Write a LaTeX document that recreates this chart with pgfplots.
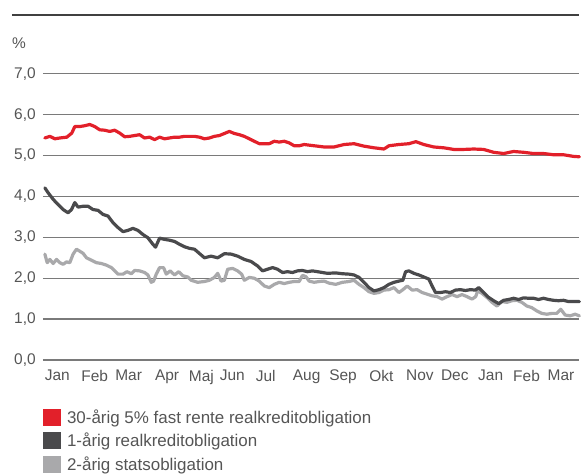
\documentclass[border=0pt]{standalone}
\usepackage{pgfplots}
\pgfplotsset{compat=1.18}
\usepackage{pgfplotstable}
\usepackage{fontspec}
\setmainfont{Liberation Sans}
\definecolor{cred}{HTML}{E2202A}
\definecolor{cdark}{HTML}{4A4A4C}
\definecolor{clight}{HTML}{A9A9AB}
\definecolor{ctext}{HTML}{555555}
\definecolor{cgrid}{HTML}{7A7A7A}

\pgfplotstableread{
x y
45 5.43
50 5.47
55 5.41
60 5.43
67 5.45
72 5.55
75 5.71
80 5.71
85 5.73
90 5.76
95 5.71
100 5.63
105 5.62
110 5.59
115 5.62
120 5.55
125 5.46
130 5.47
135 5.49
140 5.51
145 5.43
150 5.45
155 5.39
160 5.45
165 5.41
170 5.43
175 5.45
180 5.45
185 5.47
190 5.47
195 5.47
200 5.45
205 5.41
210 5.43
215 5.47
220 5.49
225 5.54
230 5.59
235 5.54
240 5.51
245 5.47
250 5.41
255 5.35
260 5.29
265 5.29
270 5.29
275 5.35
280 5.33
285 5.35
290 5.31
295 5.24
300 5.24
305 5.27
315 5.24
325 5.21
335 5.21
345 5.27
355 5.29
365 5.23
375 5.19
385 5.16
390 5.24
400 5.27
410 5.29
417 5.34
425 5.27
435 5.21
445 5.19
455 5.15
465 5.15
475 5.16
485 5.15
495 5.08
505 5.05
515 5.10
525 5.08
535 5.05
545 5.05
555 5.02
565 5.02
575 4.98
581 4.97
}\tred

\pgfplotstableread{
x y
45 4.21
48.3 4.09
53.3 3.93
58.3 3.80
63.3 3.68
68.3 3.60
71.7 3.68
75 3.85
78.3 3.74
83.3 3.76
88.3 3.76
93.3 3.68
98.3 3.66
103.3 3.56
108.3 3.52
113.3 3.36
118.3 3.24
123.3 3.14
128.3 3.17
133.3 3.22
138.3 3.17
143.3 3.07
148.3 2.99
153.3 2.83
156 2.76
160 2.98
165 2.95
170 2.93
175 2.90
180 2.83
185 2.77
190 2.73
195 2.71
205 2.50
211.7 2.54
218.3 2.50
225 2.60
231.7 2.59
238.3 2.54
245 2.46
251.7 2.41
258.3 2.30
263.3 2.18
268.3 2.22
273.3 2.26
278.3 2.22
283.3 2.14
288.3 2.16
293.3 2.14
298.3 2.18
303.3 2.19
308.3 2.16
313.3 2.18
318.3 2.16
323.3 2.14
328.3 2.12
336.7 2.13
343.3 2.11
350 2.10
355 2.08
360 2.02
365 1.90
370 1.77
375 1.69
380 1.72
385 1.77
390 1.85
395 1.90
400 1.93
404 1.95
406.7 2.16
410 2.18
415 2.12
420 2.08
425 2.03
430 1.98
433.3 1.81
436.7 1.65
441.7 1.65
446.7 1.67
451.7 1.65
456.7 1.71
461.7 1.72
466.7 1.70
471.7 1.72
476.7 1.71
480 1.77
485 1.65
490 1.53
495 1.45
500 1.38
505 1.46
510 1.48
515 1.51
520 1.48
525 1.52
530 1.51
535 1.51
540 1.48
545 1.51
550 1.48
555 1.46
560 1.45
565 1.46
570 1.43
575 1.43
581 1.43
}\tdark

\pgfplotstableread{
x y
45 2.59
47.3 2.38
50 2.46
53.3 2.36
56.7 2.46
60 2.38
63.3 2.34
66.7 2.40
70 2.38
73.3 2.59
76.7 2.71
80 2.66
83.3 2.61
86.7 2.50
91.7 2.44
96.7 2.38
101.7 2.36
106.7 2.32
111.7 2.26
115 2.18
118.3 2.10
123.3 2.10
127.3 2.16
131.7 2.11
135 2.19
140 2.18
145 2.14
148.3 2.08
151.7 1.90
154 1.93
156.7 2.10
160 2.26
164 2.26
166.7 2.10
170.7 2.18
175 2.08
179.3 2.16
183.3 2.06
188.3 2.03
191.7 1.95
198.3 1.90
205 1.92
210 1.95
215 2.02
218.3 2.12
221.7 1.93
225 1.95
228.3 2.22
233.3 2.24
238.3 2.18
242.3 2.10
245 1.95
250 2.02
255 2.00
260 1.93
265 1.81
270 1.77
275 1.85
280 1.90
285 1.87
290 1.90
295 1.92
300 1.92
303.3 2.07
306.7 2.04
310 1.93
315 1.90
320 1.92
325 1.93
330 1.88
336.7 1.85
343.3 1.90
350 1.92
355 1.95
360 1.85
365 1.77
370 1.67
375 1.63
380 1.65
385 1.71
390 1.72
395 1.77
400 1.65
404 1.72
408.3 1.81
413.3 1.71
418.3 1.72
423.3 1.65
428.3 1.61
433.3 1.57
438.3 1.55
443.3 1.49
448.3 1.55
453.3 1.60
458.3 1.55
463.3 1.60
468.3 1.55
473.3 1.49
477 1.55
479 1.69
483.3 1.63
488.3 1.53
493.3 1.41
498.3 1.32
503.3 1.43
508.3 1.41
513.3 1.45
518.3 1.46
523.3 1.41
528.3 1.32
533.3 1.28
538.3 1.20
543.3 1.14
548.3 1.12
553.3 1.14
558.3 1.14
562.3 1.24
566.7 1.10
571.7 1.08
576.7 1.12
581 1.08
}\tlight

\begin{document}
\begin{tikzpicture}[font=\fontsize{15.5bp}{18bp}\selectfont]
\begin{axis}[
  name=ax,
  scale only axis,
  width=538bp, height=287bp,
  xmin=43, xmax=581, ymin=0, ymax=7,
  axis line style={draw=none},
  major tick length=0pt,
  ymajorgrids,
  grid style={cgrid, line width=1.3bp},
  ytick={0,1,2,3,4,5,6,7},
  yticklabels={{0,0},{1,0},{2,0},{3,0},{4,0},{5,0},{6,0},{7,0}},
  yticklabel style={anchor=east, inner sep=0pt, xshift=-7bp, text=ctext},
  xtick={57.5,95,129,167.5,202,233,266.5,307.5,344,382.5,421,456,492,528,562.5},
  xticklabels={Jan,Feb,Mar,Apr,Maj,Jun,Jul,Aug,Sep,Okt,Nov,Dec,Jan,Feb,Mar},
  xticklabel style={anchor=north, inner sep=0pt, yshift=-10bp, text=ctext},
  clip=false,
  legend style={at={(0,-0.170)}, anchor=north west, draw=none, fill=none,
    inner sep=0pt, row sep=6.5bp, font=\fontsize{17bp}{19bp}\selectfont,
    nodes={text=ctext, inner sep=0pt, anchor=west}},
  legend cell align=left,
  legend image code/.code={\fill[#1, draw=none] (0bp,-8.5bp) rectangle (18bp,8.5bp);},
  legend reversed,
  every axis plot/.append style={line width=3.2bp, line join=round, line cap=round},
]
\addplot[clight] table {\tlight};
\addlegendentry{\hspace{6bp}2-årig statsobligation}
\addplot[cdark] table {\tdark};
\addlegendentry{\hspace{6bp}1-årig realkreditobligation}
\addplot[cred] table {\tred};
\addlegendentry{\hspace{6bp}30-årig 5\% fast rente realkreditobligation}
\end{axis}
\path[use as bounding box] ([shift={(-43bp,-115bp)}]ax.south west) rectangle ([shift={(0bp,74bp)}]ax.north east);
\draw[line width=2bp, color=black!75] ([shift={(-31bp,59bp)}]ax.north west) -- ([shift={(0bp,59bp)}]ax.north east);
\node[anchor=west, inner sep=0pt, text=ctext] at ([shift={(-31bp,31bp)}]ax.north west) {\%};
\end{tikzpicture}
\end{document}
